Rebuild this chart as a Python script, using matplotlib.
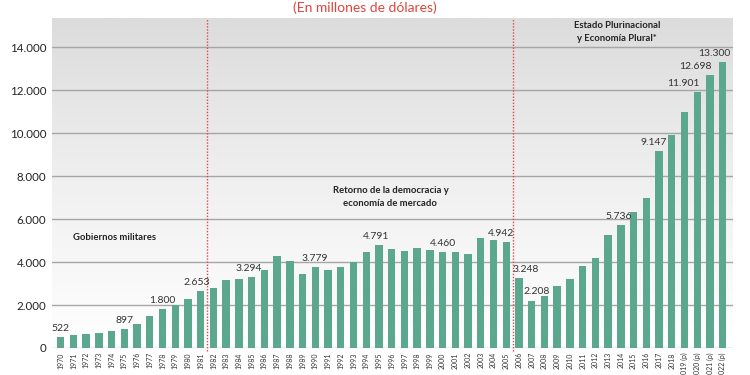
import matplotlib
matplotlib.use("Agg")
import matplotlib.pyplot as plt
import numpy as np
from matplotlib.colors import LinearSegmentedColormap
from matplotlib.ticker import FuncFormatter

plt.rcParams['font.family'] = ['Lato', 'DejaVu Sans']

years = [str(y) for y in range(1970, 2019)] + ["2019 (p)", "2020 (p)", "2021 (p)", "2022 (p)"]
values = [522, 590, 670, 690, 775, 897, 1116, 1474, 1800, 2015, 2295, 2653,
          2790, 3163, 3194, 3294, 3628, 4263, 4062, 3457, 3779, 3628, 3767, 3984,
          4465, 4791, 4620, 4512, 4636, 4543, 4460, 4480, 4372, 5116, 5023, 4942,
          3248, 2208, 2418, 2899, 3209, 3814, 4170, 5240, 5736, 6310, 6977, 9147,
          9891, 10991, 11901, 12698, 13300]
labeled_years = ["1970", "1975", "1978", "1981", "1985", "1990", "1995", "2000",
                 "2005", "2006", "2007", "2014", "2017", "2020 (p)", "2021 (p)", "2022 (p)"]
label_dx = {"1981": -4, "1985": -3, "1995": -3, "2005": -5, "2006": 7, "2007": 5,
            "2014": -2, "2017": -5, "2020 (p)": -14, "2021 (p)": -15, "2022 (p)": -8}
periods = ["Gobiernos militares", "Retorno de la democracia y\neconomía de mercado",
           "Estado Plurinacional\ny Economía Plural*"]
title = "(En millones de dólares)"

bar_color = "#5BA88F"

fig = plt.figure(figsize=(7.5, 3.75), dpi=100)
ax = fig.add_axes([52/750, 1-348/375, (733-52)/750, (348-18)/375])

x = np.arange(len(years))
ax.set_xlim(-0.68, len(years) - 1 + 0.81)
ax.set_ylim(0, 15350)

# gradient background
cmap = LinearSegmentedColormap.from_list("bg", ["#ffffff", "#f0f0f0", "#dcdcdc"])
grad = np.linspace(0, 1, 256).reshape(-1, 1)
ax.imshow(grad, extent=[0, 1, 0, 1], transform=ax.transAxes, aspect='auto',
          cmap=cmap, origin='lower', zorder=0)

ax.bar(x, values, width=0.58, color=bar_color, zorder=3)

ax.set_yticks(range(0, 14001, 2000))
ax.yaxis.set_major_formatter(FuncFormatter(lambda v, p: f"{int(v):,}".replace(",", ".")))
ax.yaxis.grid(True, color="#a6a6a6", lw=1, zorder=1)
ax.set_axisbelow(True)
for s in ax.spines.values():
    s.set_visible(False)
ax.tick_params(axis='y', length=0, labelsize=8.3, pad=4, labelcolor="#222222")
ax.set_xticks(x)
ax.set_xticklabels(years, rotation=90, fontsize=5, va='top')
ax.tick_params(axis='x', length=0, pad=3, labelcolor="#333333")

for div in (11.5, 35.5):
    ax.axvline(div, color="#e04848", ls=(0, (1, 1.2)), lw=1, zorder=4, ymin=-0.01, clip_on=False)

for yl in labeled_years:
    i = years.index(yl)
    v = values[i]
    ax.annotate(f"{v:,}".replace(",", "."), xy=(i, v), xytext=(label_dx.get(yl, 0) * 0.72, 3),
                textcoords="offset points", ha='center', va='bottom', fontsize=7.5,
                color="#333333", zorder=5)

ax.text(1.0, 5160, periods[0], ha='left', va='center', fontsize=6.8, fontweight='bold', color="#222222")
ax.text(25.9, 7020, periods[1], ha='center', va='center', fontsize=6.8, fontweight='bold',
        color="#222222", linespacing=1.6)
ax.text(43.7, 14700, periods[2], ha='center', va='center', fontsize=6.8, fontweight='bold',
        color="#222222", linespacing=1.6)

fig.text(0.487, 0.98, title, ha='center', va='center', fontsize=10, color="#e0453c")

fig.savefig("out.png", dpi=100)
